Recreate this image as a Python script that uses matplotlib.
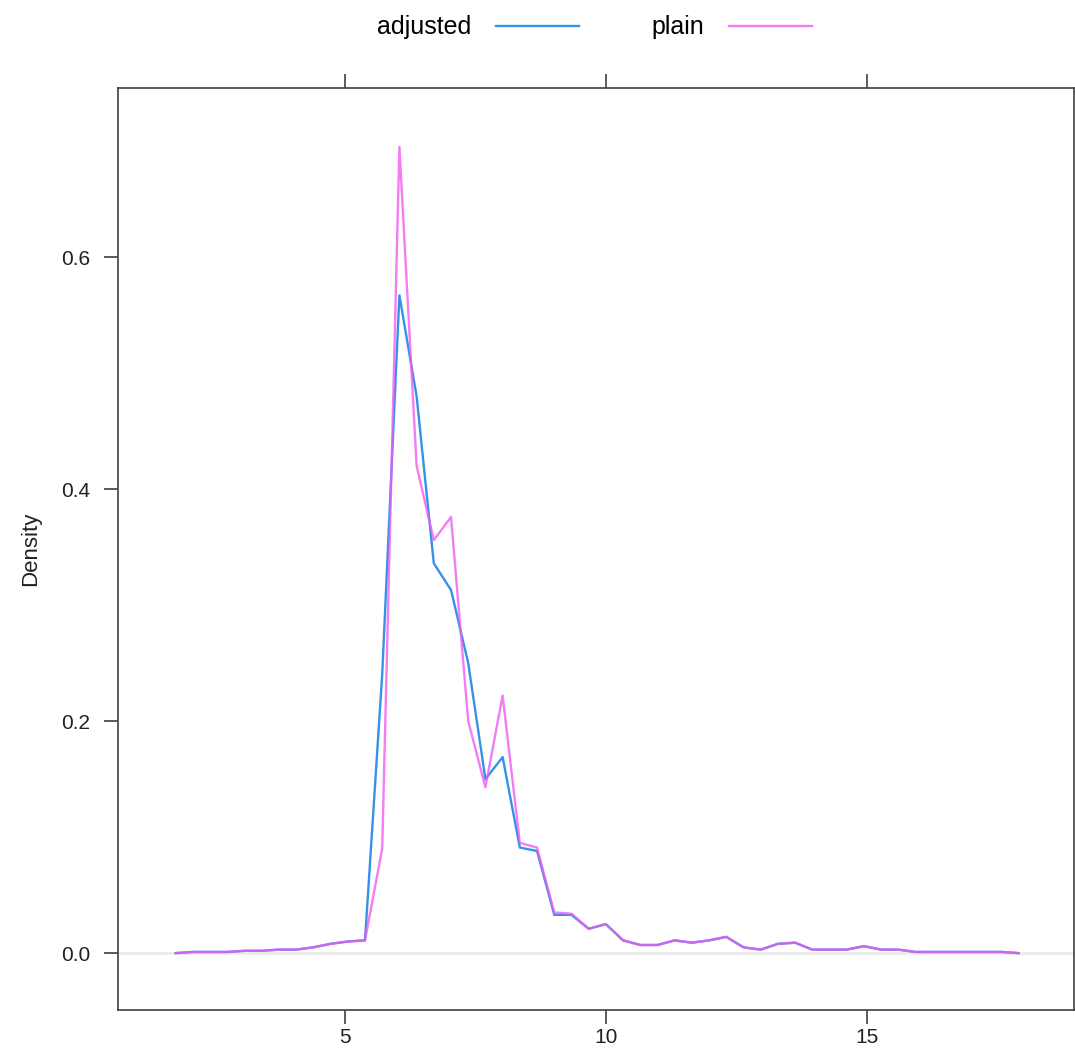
import matplotlib
matplotlib.use("Agg")
import matplotlib.pyplot as plt

plt.rcParams['font.family'] = ['Liberation Sans', 'DejaVu Sans']

# bin midpoints (x) and density values
x = [1.75, 2.08, 2.41, 2.74, 3.07, 3.40, 3.73, 4.06, 4.39, 4.72,
     5.05, 5.38, 5.71, 6.04, 6.37, 6.70, 7.03, 7.36, 7.69, 8.02,
     8.35, 8.68, 9.01, 9.34, 9.67, 10.00, 10.33, 10.66, 10.99, 11.32,
     11.65, 11.98, 12.31, 12.64, 12.97, 13.30, 13.63, 13.96, 14.29, 14.62,
     14.95, 15.28, 15.61, 15.94, 16.27, 16.60, 16.93, 17.26, 17.59, 17.92]

adjusted = [0.000, 0.001, 0.001, 0.001, 0.002, 0.002, 0.003, 0.003, 0.005, 0.008,
            0.010, 0.011, 0.240, 0.567, 0.480, 0.336, 0.313, 0.250, 0.150, 0.169,
            0.091, 0.088, 0.033, 0.033, 0.021, 0.025, 0.011, 0.007, 0.007, 0.011,
            0.009, 0.011, 0.014, 0.005, 0.003, 0.008, 0.009, 0.003, 0.003, 0.003,
            0.006, 0.003, 0.003, 0.001, 0.001, 0.001, 0.001, 0.001, 0.001, 0.000]

plain = [0.000, 0.001, 0.001, 0.001, 0.002, 0.002, 0.003, 0.003, 0.005, 0.008,
         0.010, 0.011, 0.090, 0.695, 0.420, 0.356, 0.376, 0.200, 0.143, 0.222,
         0.095, 0.091, 0.035, 0.034, 0.021, 0.025, 0.011, 0.007, 0.007, 0.011,
         0.009, 0.011, 0.014, 0.005, 0.003, 0.008, 0.009, 0.003, 0.003, 0.003,
         0.006, 0.003, 0.003, 0.001, 0.001, 0.001, 0.001, 0.001, 0.001, 0.000]

series = ['adjusted', 'plain']
colors = ['#3592e8', '#f05cf0']

fig = plt.figure(figsize=(10.75, 10.57), dpi=100)
ax = fig.add_axes([0.1098, 0.0445, 0.8893, 0.8722])

# light reference line at zero density
ax.axhline(0, color='#ebebeb', lw=2, zorder=1)

ax.plot(x, adjusted, color=colors[0], lw=1.7, label=series[0], zorder=2)
# plain on top, a bit see-through so overlaps look purple like the original
ax.plot(x, plain, color=colors[1], lw=1.7, alpha=0.8, label=series[1], zorder=3)

ax.set_xlim(0.643, 18.98)
ax.set_ylim(-0.049, 0.7457)
ax.set_xticks([5, 10, 15])
ax.set_yticks([0.0, 0.2, 0.4, 0.6])
ax.set_yticklabels(['0.0', '0.2', '0.4', '0.6'])
ax.tick_params(direction='out', length=10, width=1.2, color='#404040',
               labelsize=15, labelcolor='#222222',
               top=True, right=False, labeltop=False, labelright=False)
ax.tick_params(axis='y', pad=10)
ax.tick_params(axis='x', pad=3)
for s in ax.spines.values():
    s.set_color('#404040')
    s.set_linewidth(1.2)
ax.set_ylabel('Density', fontsize=16, color='#222222', labelpad=14)

fig.legend(loc='center', bbox_to_anchor=(0.553, 0.974), ncol=2, frameon=False,
           markerfirst=False, fontsize=18, handlelength=3.3, handletextpad=1.0,
           columnspacing=2.9)

fig.savefig('out.png', dpi=100, facecolor='white')
